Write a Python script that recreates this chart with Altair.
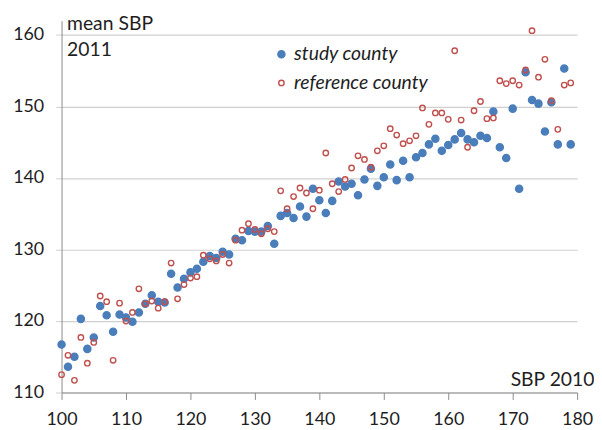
import altair as alt
import pandas as pd

# ---- data ----
sbp2010 = list(range(100, 180))
study = [116.7, 113.6, 115.0, 120.3, 116.1, 117.7, 122.1, 120.8, 118.5, 120.9,
         120.5, 119.9, 121.2, 122.4, 123.6, 122.7, 122.6, 126.6, 124.7, 125.9,
         126.8, 127.3, 128.3, 129.1, 128.8, 129.7, 129.3, 131.5, 131.3, 132.6,
         132.5, 132.5, 133.3, 130.8, 134.7, 135.1, 134.4, 136.0, 134.6, 138.5,
         136.9, 135.1, 136.8, 139.5, 138.8, 139.2, 137.6, 139.8, 141.3, 138.9,
         140.1, 141.9, 139.7, 142.4, 140.1, 142.9, 143.5, 144.7, 145.5, 143.8,
         144.6, 145.4, 146.3, 145.4, 145.0, 145.9, 145.6, 149.3, 144.3, 142.8,
         149.7, 138.5, 154.8, 150.9, 150.4, 146.5, 150.6, 144.7, 155.3, 144.7]
reference = [112.5, 115.2, 111.7, 117.7, 114.1, 117.0, 123.5, 122.7, 114.5, 122.5,
             120.0, 121.2, 124.5, 122.4, 122.8, 121.8, 122.7, 128.1, 123.1, 125.1,
             126.0, 126.2, 129.2, 128.7, 128.4, 129.3, 128.1, 131.3, 132.7, 133.6,
             132.8, 132.2, 132.9, 132.5, 138.2, 135.7, 137.4, 138.6, 137.9, 135.7,
             138.3, 143.5, 139.2, 138.1, 139.8, 141.4, 143.1, 142.6, 141.5, 143.8,
             144.5, 146.9, 146.0, 144.8, 145.2, 145.9, 149.8, 147.5, 149.1, 149.1,
             148.2, 157.8, 148.1, 144.3, 149.4, 150.7, 148.3, 148.4, 153.6, 153.2,
             153.6, 153.0, 155.1, 160.6, 154.1, 156.6, 150.8, 146.8, 153.0, 153.3]
groups = ["study county", "reference county"]
x_ticks = [100, 110, 120, 130, 140, 150, 160, 170, 180]
y_ticks = [110, 120, 130, 140, 150, 160]

# ---- styles ----
stroke_colors = ["#4A7EBB", "#C0504D"]
fill_colors = ["#4A7EBB", "transparent"]
sizes = [52, 30]
FONT = "Lato"
TEXT = "#1e1e1e"

df = pd.DataFrame({
    "sbp2010": sbp2010 + sbp2010,
    "sbp2011": study + reference,
    "group": [groups[0]] * len(study) + [groups[1]] * len(reference),
})

leg = alt.Legend(
    title=None, orient="none", legendX=212, legendY=24,
    labelFont=FONT, labelFontSize=19.5, labelFontStyle="italic", labelColor=TEXT,
    labelOffset=3, rowPadding=8, symbolType="circle", symbolStrokeWidth=1.4,
)

chart = alt.Chart(df).mark_point(shape="circle", opacity=1, strokeWidth=1.4).encode(
    x=alt.X("sbp2010:Q",
            scale=alt.Scale(domain=[100, 180], nice=False, zero=False),
            axis=alt.Axis(values=x_ticks, title="SBP 2010", grid=False,
                          tickSize=7, labelPadding=11, labelFlush=False,
                          titleX=537, titleY=-7, titleAlign="right",
                          titleBaseline="alphabetic", titleFontSize=19.5)),
    y=alt.Y("sbp2011:Q",
            scale=alt.Scale(domain=[110, 162], nice=False, zero=False),
            axis=alt.Axis(values=y_ticks, title=["mean SBP", "2011"], grid=True,
                          tickSize=6, labelPadding=12, tickColor="#d0d0d0",
                          labelFlush=False,
                          titleAngle=0, titleAlign="left", titleBaseline="alphabetic",
                          titleX=5, titleY=9, titleLineHeight=26, titleFontSize=19.5)),
    stroke=alt.Stroke("group:N", scale=alt.Scale(domain=groups, range=stroke_colors), legend=leg),
    fill=alt.Fill("group:N", scale=alt.Scale(domain=groups, range=fill_colors), legend=leg),
    size=alt.Size("group:N", scale=alt.Scale(domain=groups, range=sizes), legend=leg),
).properties(
    width=520, height=375,
    autosize=alt.AutoSizeParams(type="none"),
    padding={"left": 54, "top": 11, "right": 17, "bottom": 34},
    background="white",
).configure_view(
    strokeWidth=0
).configure_axis(
    labelFont=FONT, labelFontSize=18, labelColor=TEXT,
    titleFont=FONT, titleFontWeight="normal", titleColor=TEXT,
    domainColor="#8c8c8c", domainWidth=1, tickColor="#8c8c8c",
    gridColor="#d0d0d0", gridWidth=1.2,
)

chart.save("out.html", embed_options={"renderer": "svg", "actions": False})
